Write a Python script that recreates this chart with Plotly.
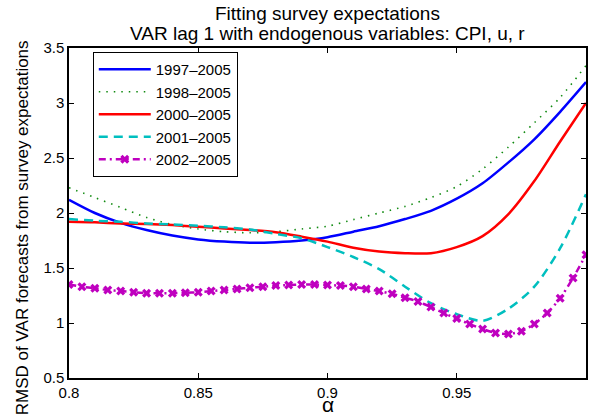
import plotly.graph_objects as go

alpha = [0.80, 0.81, 0.82, 0.83, 0.84, 0.85, 0.86, 0.87, 0.88, 0.89, 0.90,
         0.91, 0.92, 0.93, 0.94, 0.95, 0.96, 0.97, 0.98, 0.99, 1.00]

rmsd_1997 = [2.12, 2.00, 1.91, 1.845, 1.795, 1.76, 1.74, 1.73, 1.735, 1.75, 1.78,
             1.83, 1.88, 1.945, 2.02, 2.13, 2.27, 2.46, 2.67, 2.92, 3.19]
rmsd_1998 = [2.23, 2.14, 2.05, 1.96, 1.895, 1.855, 1.83, 1.82, 1.83, 1.855, 1.88,
             1.94, 2.00, 2.06, 2.14, 2.24, 2.40, 2.60, 2.82, 3.05, 3.34]
rmsd_2000 = [1.92, 1.915, 1.905, 1.90, 1.89, 1.875, 1.86, 1.845, 1.825, 1.785, 1.74,
             1.685, 1.65, 1.635, 1.635, 1.69, 1.79, 1.99, 2.29, 2.65, 3.00]
rmsd_2001 = [1.945, 1.93, 1.92, 1.905, 1.895, 1.885, 1.87, 1.85, 1.81, 1.77, 1.69,
             1.60, 1.49, 1.33, 1.18, 1.08, 1.02, 1.13, 1.33, 1.68, 2.17]

alpha_fine = [0.800, 0.805, 0.810, 0.815, 0.820, 0.825, 0.830, 0.835, 0.840, 0.845,
              0.850, 0.855, 0.860, 0.865, 0.870, 0.875, 0.880, 0.885, 0.890, 0.895,
              0.900, 0.905, 0.910, 0.915, 0.920, 0.925, 0.930, 0.935, 0.940, 0.945,
              0.950, 0.955, 0.960, 0.965, 0.970, 0.975, 0.980, 0.985, 0.990, 0.995, 1.000]
rmsd_2002 = [1.35, 1.33, 1.315, 1.30, 1.29, 1.28, 1.27, 1.27, 1.27, 1.275,
             1.28, 1.29, 1.30, 1.31, 1.32, 1.33, 1.34, 1.345, 1.35, 1.35,
             1.345, 1.34, 1.33, 1.31, 1.29, 1.265, 1.23, 1.195, 1.145, 1.09,
             1.04, 0.99, 0.945, 0.91, 0.90, 0.925, 0.99, 1.09, 1.225, 1.41, 1.62]

x_ticks = [0.8, 0.85, 0.9, 0.95, 1.0]
x_ticktext = ["0.8", "0.85", "0.9", "0.95", "1"]
y_ticks = [0.5, 1.0, 1.5, 2.0, 2.5, 3.0, 3.5]
y_ticktext = ["0.5", "1", "1.5", "2", "2.5", "3", "3.5"]

title_lines = ["Fitting survey expectations",
               "VAR lag 1 with endogenous variables: CPI, u, r"]
y_label = "RMSD of VAR forecasts from survey expectations"
x_label = "\u03b1"

FONT = "Liberation Sans, Arial, sans-serif"

fig = go.Figure()
fig.add_trace(go.Scatter(x=alpha, y=rmsd_1997, name="1997\u20132005", mode="lines",
                         line=dict(color="#0000FF", width=2.5, shape="spline", smoothing=0.8)))
fig.add_trace(go.Scatter(x=alpha, y=rmsd_1998, name="1998\u20132005", mode="lines",
                         line=dict(color="#108A10", width=1.6, dash="1.5px,6px", shape="spline", smoothing=0.8)))
fig.add_trace(go.Scatter(x=alpha, y=rmsd_2000, name="2000\u20132005", mode="lines",
                         line=dict(color="#FF0000", width=2.5, shape="spline", smoothing=0.8)))
fig.add_trace(go.Scatter(x=alpha, y=rmsd_2001, name="2001\u20132005", mode="lines",
                         line=dict(color="#00BFBF", width=2.5, dash="9px,6px", shape="spline", smoothing=0.8)))
fig.add_trace(go.Scatter(x=alpha_fine, y=rmsd_2002, name="2002\u20132005", mode="lines+markers",
                         line=dict(color="#BF00BF", width=2.5, dash="7px,4px,2px,4px", shape="spline", smoothing=0.6),
                         marker=dict(symbol="x", size=8, color="#BF00BF", line=dict(width=0))))

axis_common = dict(showline=True, linecolor="black", linewidth=1.5, mirror="ticks",
                   ticks="inside", ticklen=5, tickcolor="black", tickwidth=1,
                   showgrid=False, zeroline=False,
                   tickfont=dict(family=FONT, size=15, color="black"))

fig.update_xaxes(range=[0.8, 1.0], tickvals=x_ticks, ticktext=x_ticktext, **axis_common)
fig.update_yaxes(range=[0.5, 3.5], tickvals=y_ticks, ticktext=y_ticktext, **axis_common)

annotations = [
    dict(text=title_lines[0], x=0.5, y=(378 - 13) / 330, xref="paper", yref="paper",
         xanchor="center", yanchor="middle", showarrow=False,
         font=dict(family=FONT, size=19, color="black")),
    dict(text=title_lines[1], x=0.5, y=(378 - 33) / 330, xref="paper", yref="paper",
         xanchor="center", yanchor="middle", showarrow=False,
         font=dict(family=FONT, size=19, color="black")),
    dict(text=y_label, x=(22 - 69) / 519, y=(378 - 228) / 330, xref="paper", yref="paper",
         xanchor="center", yanchor="middle", textangle=-90, showarrow=False,
         font=dict(family=FONT, size=17, color="black")),
    dict(text=x_label, x=0.5, y=(378 - 404) / 330, xref="paper", yref="paper",
         xanchor="center", yanchor="middle", showarrow=False,
         font=dict(family=FONT, size=21, color="black")),
]

fig.update_layout(
    width=589, height=418,
    margin=dict(l=69, r=1, t=48, b=40),
    paper_bgcolor="white", plot_bgcolor="white",
    font=dict(family=FONT, size=14, color="black"),
    annotations=annotations,
    legend=dict(x=0.046, y=0.988, xanchor="left", yanchor="top",
                bgcolor="white", bordercolor="black", borderwidth=1,
                font=dict(family=FONT, size=15, color="black"),
                tracegroupgap=0, itemwidth=52),
    showlegend=True,
)

fig.write_html("out.html")
